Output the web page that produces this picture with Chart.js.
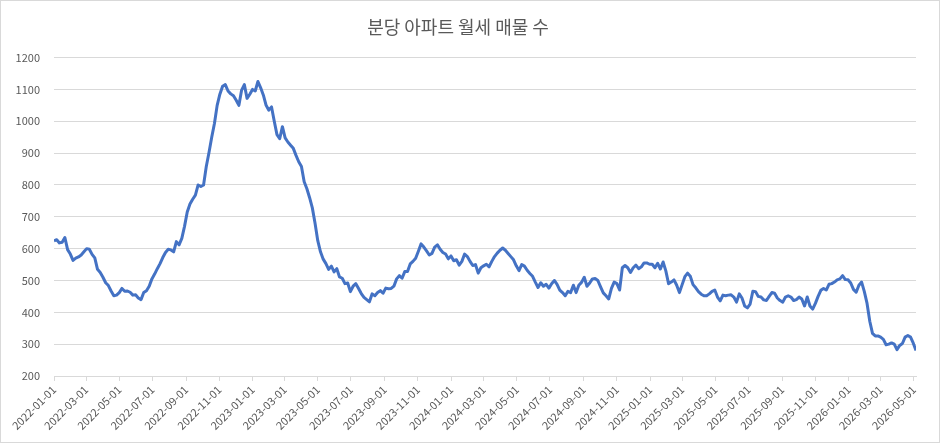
<!DOCTYPE html>
<html><head><meta charset="utf-8">
<script src="https://cdn.jsdelivr.net/npm/chart.js@4.4.1/dist/chart.umd.min.js"></script>
<style>html,body{margin:0;padding:0;background:#fff;} #wrap{position:relative;width:940px;height:443px;}</style>
</head><body><div id="wrap"><canvas id="c"></canvas></div>
<script>
const chartTitle = '분당 아파트 월세 매물 수';
const startDate = '2022-01-01';
const stepDays = 5;

const values2022 = [
624, 628, 618, 620, 635, 597, 583, 563, 570, 574,
580, 590, 600, 598, 582, 571, 535, 525, 510, 493,
484, 467, 452, 454, 462, 475, 466, 467, 463, 454,
455, 445, 440, 462, 468, 482, 505, 520, 537, 553,
572, 588, 598, 596, 590, 622, 612, 632, 670, 715,
740, 755, 768, 800, 795, 800, 858, 902, 950, 993,
1050, 1085, 1110, 1115, 1095, 1086, 1080, 1066, 1050, 1098,
1115, 1072, 1085];
const values2023 = [
1100, 1095, 1125, 1105, 1082, 1050, 1035, 1045, 1000, 958,
945, 983, 948, 935, 925, 915, 893, 873, 858, 810,
788, 760, 728, 680, 625, 590, 567, 553, 535, 545,
527, 537, 511, 507, 490, 492, 465, 482, 490, 475,
459, 447, 440, 433, 458, 452, 462, 468, 460, 476,
474, 475, 482, 505, 515, 507, 528, 528, 552, 560,
570, 592, 615, 605, 593, 580, 585, 605, 612, 598,
588, 583, 568];
const values2024 = [
577, 562, 565, 548, 560, 583, 575, 560, 547, 550,
523, 540, 546, 551, 543, 560, 575, 586, 595, 602,
595, 585, 575, 565, 546, 531, 550, 545, 532, 522,
513, 495, 478, 493, 482, 488, 476, 490, 500, 488,
470, 462, 452, 466, 462, 485, 462, 485, 494, 510,
482, 492, 505, 506, 500, 480, 461, 452, 442, 475,
495, 490, 470, 540, 547, 540, 525, 540, 548, 537,
543, 555, 555, 551];
const values2025 = [
551, 540, 554, 536, 558, 530, 490, 495, 502, 485,
462, 487, 512, 523, 513, 487, 477, 465, 457, 452,
452, 458, 466, 470, 448, 436, 454, 452, 454, 455,
448, 432, 458, 445, 420, 414, 426, 466, 465, 450,
448, 439, 437, 450, 462, 460, 445, 437, 432, 448,
452, 448, 437, 440, 448, 442, 420, 448, 420, 410,
428, 450, 469, 475, 470, 488, 490, 495, 502, 505,
515, 503, 502];
const values2026 = [
492, 472, 463, 485, 495, 465, 428, 372, 334, 326,
326, 322, 315, 298, 300, 304, 300, 283, 296, 302,
322, 327, 322, 303, 280];

const tickLabels = [
'2022-01-01','2022-03-01','2022-05-01','2022-07-01','2022-09-01','2022-11-01',
'2023-01-01','2023-03-01','2023-05-01','2023-07-01','2023-09-01','2023-11-01',
'2024-01-01','2024-03-01','2024-05-01','2024-07-01','2024-09-01','2024-11-01',
'2025-01-01','2025-03-01','2025-05-01','2025-07-01','2025-09-01','2025-11-01',
'2026-01-01','2026-03-01','2026-05-01'];

const yMin = 200, yMax = 1200, yStep = 100;

const DAY = 86400000;
const t0 = Date.parse(startDate + 'T00:00:00Z');
const dayOf = s => Math.round((Date.parse(s + 'T00:00:00Z') - t0) / DAY);
const allValues = [].concat(values2022, values2023, values2024, values2025, values2026);
const points = allValues.map((v, i) => ({x: i * stepDays, y: v}));
const tickDays = tickLabels.map(dayOf);
const lastDay = points[points.length - 1].x;

const FONT = "'Noto Sans CJK KR', 'Noto Sans', sans-serif";

const frame = {
  id: 'frame',
  afterDraw(chart) {
    const ctx = chart.ctx;
    ctx.save();
    ctx.strokeStyle = '#d9d9d9';
    ctx.lineWidth = 1;
    ctx.strokeRect(0.5, 0.5, chart.width - 1, chart.height - 1);
    ctx.restore();
  }
};

new Chart(document.getElementById('c'), {
  type: 'line',
  data: {
    datasets: [{
      data: points,
      borderColor: '#4472C4',
      borderWidth: 3,
      pointRadius: 0,
      tension: 0,
      fill: false,
      borderJoinStyle: 'round'
    }]
  },
  options: {
    responsive: true,
    maintainAspectRatio: false,
    animation: false,
    layout: {padding: {left: 0, right: 24, top: 0, bottom: 0}},
    plugins: {
      legend: {display: false},
      tooltip: {enabled: false},
      title: {
        display: true, text: chartTitle, color: '#595959',
        font: {family: FONT, size: 18, weight: 'normal'},
        padding: {top: 16, bottom: 20}
      }
    },
    scales: {
      x: {
        type: 'linear', min: 0, max: lastDay,
        afterBuildTicks: s => { s.ticks = tickDays.map(v => ({value: v})); },
        afterFit: s => { s.height = 67; },
        grid: {display: true, drawOnChartArea: false, drawTicks: true, tickLength: 5, color: '#d9d9d9'},
        border: {display: true, color: '#d9d9d9'},
        ticks: {
          autoSkip: false, maxRotation: 45, minRotation: 45, padding: 2,
          color: '#595959', font: {family: FONT, size: 11},
          callback: v => { const i = tickDays.indexOf(v); return i >= 0 ? tickLabels[i] : ''; }
        }
      },
      y: {
        min: yMin, max: yMax,
        afterFit: s => { s.width = 54; },
        grid: {color: '#d9d9d9', drawTicks: false},
        border: {display: false},
        ticks: {stepSize: yStep, padding: 14, color: '#595959', font: {family: FONT, size: 11},
          callback: v => String(v)}
      }
    }
  },
  plugins: [frame]
});
</script>
</body></html>
